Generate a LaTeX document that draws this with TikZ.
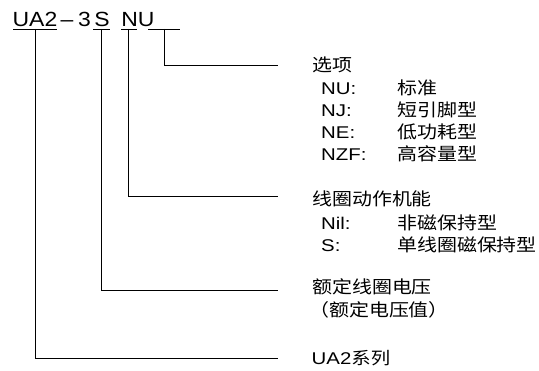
\documentclass[tikz,border=0pt]{standalone}
\usepackage{fontspec}
\setmainfont[FakeStretch=1.2]{Liberation Sans}
\newfontfamily\cjk[FakeStretch=1.14]{Noto Sans CJK SC}
\newfontfamily\tit[FakeStretch=1.12]{Liberation Sans}

\begin{document}
\begin{tikzpicture}[x=1pt,y=-1pt,
	title/.style={inner sep=0pt,anchor=base,font=\fontsize{20.5}{24}\selectfont\tit},
	lab/.style={inner sep=0pt,anchor=base west,font=\fontsize{17}{20}\selectfont},
	zh/.style={lab,font=\fontsize{17.5}{20}\selectfont\cjk},
	conn/.style={line width=0.9pt}]
\useasboundingbox (0,0) rectangle (539,371);
\node (ua2) [title] at (35,26.7) {UA2};
\node (dash) [title] at (67,26.7) {–};
\node (three) [title] at (84.5,26.7) {3};
\node (s) [title] at (102,26.7) {S};
\node (nu) [title] at (138,26.7) {NU};
\foreach \a/\b/\t in {13/57/35,93/110/101,121/137/128,148/180/164}{
	\draw[conn] (\a,29) -- (\b,29);
	\coordinate (t\t) at (\t,29);
}
\node (opt) [zh] at (312,72) {选项};
\foreach \k/\v [count=\i] in {NU:/标准,NJ:/短引脚型,NE:/低功耗型,NZF:/高容量型}{
	\node (k\i) [lab] at (321,73.3+21.7*\i) {\k};
	\node (v\i) [zh] at (397,73.3+21.7*\i) {\v};
}
\node (coil) [zh] at (312,206) {线圈动作机能};
\node (nil) [lab] at (321,229.5) {Nil:};
\node (nilv) [zh] at (397,229.5) {非磁保持型};
\node (sk) [lab] at (321,251.5) {S:};
\node (sv) [zh] at (397,251.5) {单线圈磁保持型};
\node (rated) [zh] at (312,294) {额定线圈电压};
\node (ratedv) [zh] at (309,317) {（额定电压值）};
\node (series) [lab] at (311.5,365) {UA2{\cjk 系列}};
\draw[conn] (t164) |- ([xshift=-34pt]opt.west);
\draw[conn] (t128) |- ([xshift=-34pt,yshift=3pt]coil.west);
\draw[conn] (t101) |- ([xshift=-34pt,yshift=-3pt]rated.west);
\draw[conn] (t35) |- ([xshift=-33.5pt]series.west);
\end{tikzpicture}
\end{document}
